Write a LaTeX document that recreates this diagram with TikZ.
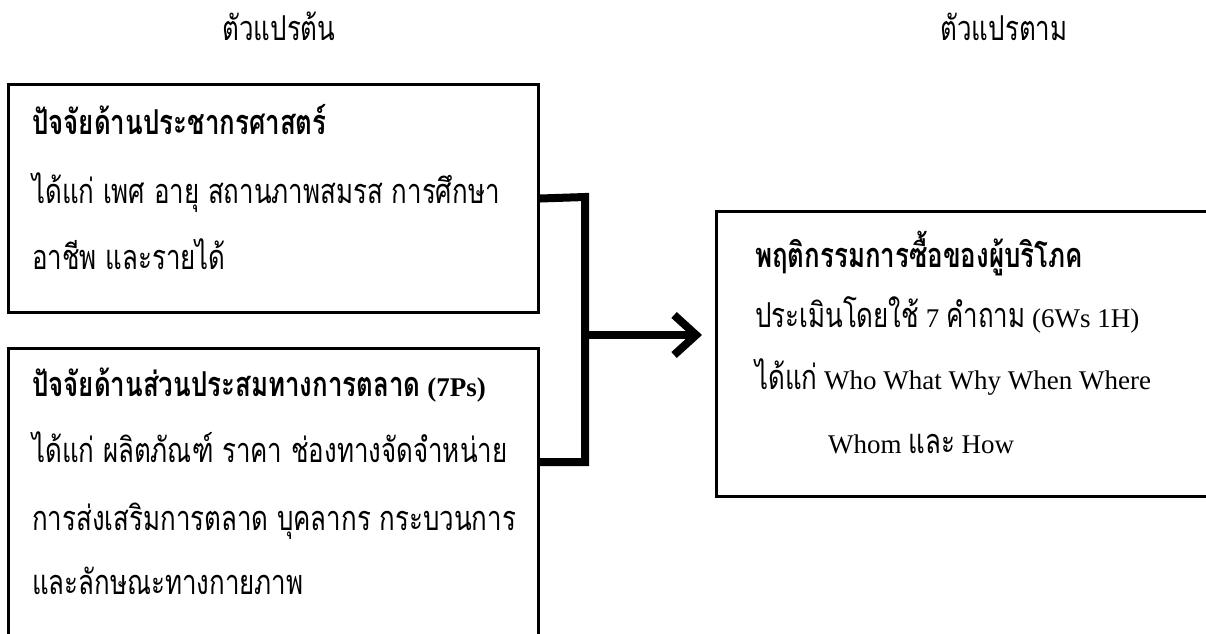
\documentclass[tikz,border=0pt]{standalone}
\usepackage{fontspec}
\setmainfont{Liberation Serif}
\newfontfamily\thai[Script=Thai,Scale=1.27,FakeStretch=0.755]{Loma}
\usetikzlibrary{arrows.meta}
\begin{document}
\begin{tikzpicture}[x=1pt,y=-1pt,
  box/.style={draw, line width=3pt, inner sep=0pt, rectangle},
  conn/.style={line width=8pt},
  txt/.style={anchor=base west, inner sep=0pt, font=\fontsize{27}{32}\selectfont},
  hd/.style={txt, font=\fontsize{27}{32}\selectfont\bfseries},
  ttl/.style={anchor=base, inner sep=0pt, font=\fontsize{27}{32}\selectfont}]
\useasboundingbox (0,0) rectangle (1206,633);
\fill[white] (0,0) rectangle (1206,633);
% titles
\node[ttl] (t1) at (279,40) {\thai ตัวแปรต้น};
\node[ttl] (t2) at (1004,40) {\thai ตัวแปรตาม};
% boxes
\node[box, minimum width=530pt, minimum height=228pt, anchor=north west] (b1) at (7,83) {};
\node[box, minimum width=530pt, minimum height=287pt, anchor=north west] (b2) at (7,347) {};
\node[box, minimum width=497pt, minimum height=285pt, anchor=north west] (b3) at (715,210) {};
% box 1 text
\node[hd] (b1a) at (32,134) {\thai ปัจจัยด้านประชากรศาสตร์};
\node[txt] (b1b) at (32,203) {\thai ได้แก่ เพศ อายุ สถานภาพสมรส การศึกษา};
\node[txt] (b1c) at (32,269) {\thai อาชีพ และรายได้};
% box 2 text
\node[hd] (b2a) at (32,396) {{\thai ปัจจัยด้านส่วนประสมทางการตลาด} (7Ps)};
\node[txt] (b2b) at (32,462) {\thai ได้แก่ ผลิตภัณฑ์ ราคา ช่องทางจัดจำหน่าย};
\node[txt] (b2c) at (32,530) {\thai การส่งเสริมการตลาด บุคลากร กระบวนการ};
\node[txt] (b2d) at (32,594) {\thai และลักษณะทางกายภาพ};
% box 3 text
\node[hd] (b3a) at (755,267) {\thai พฤติกรรมการซื้อของผู้บริโภค};
\node[txt] (b3b) at (755,327) {{\thai ประเมินโดยใช้} 7 {\thai คำถาม} (6Ws 1H)};
\node[txt] (b3c) at (755,389) {{\thai ได้แก่} Who What Why When Where};
\node[txt] (b3d) at (828,453) {Whom {\thai และ} How};
% connectors
\coordinate (c1) at (585,197);
\coordinate (c2) at (585,462);
\coordinate (a0) at (585,335);
\draw[conn, line join=miter] (b1.east) -- (c1) -- (c2) -- (b2.east |- c2);
\draw[conn, -{Straight Barb[length=22pt,width=40pt]}, shorten >=13pt] (a0) -- (b3.west |- a0);
\end{tikzpicture}
\end{document}
